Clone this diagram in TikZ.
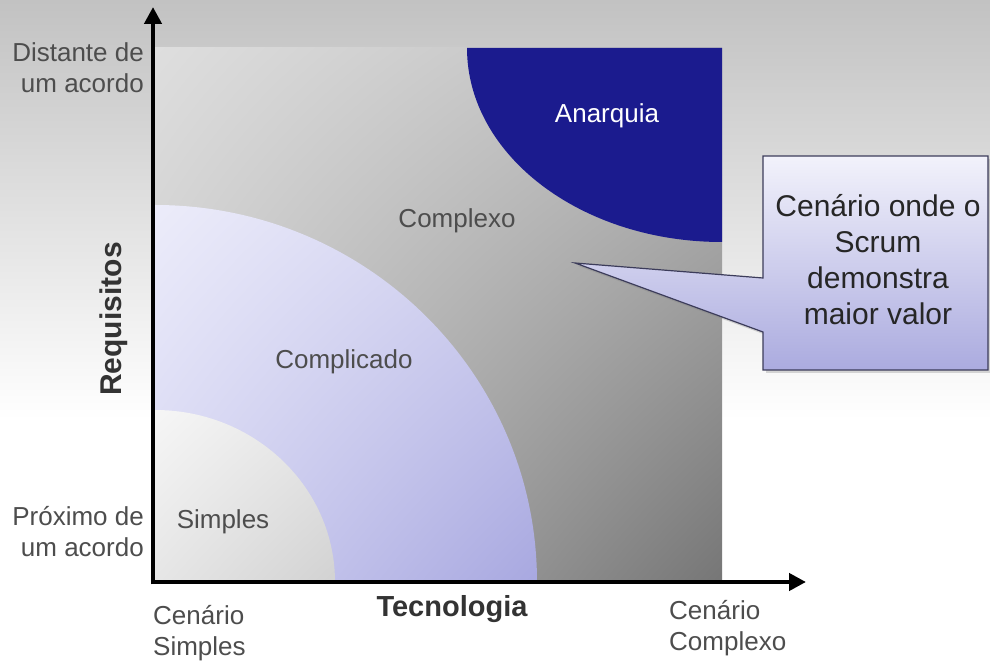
\documentclass[tikz,border=0pt]{standalone}
\usepackage{fontspec}
\setmainfont{Liberation Sans}
\usetikzlibrary{arrows.meta,shadows,shadings}

\definecolor{bgtop}{HTML}{C2C2C2}
\definecolor{plotUL}{HTML}{DEDEDE}
\definecolor{plotUR}{HTML}{BCBCBC}
\definecolor{plotLL}{HTML}{C4C4C4}
\definecolor{plotLR}{HTML}{767676}
\definecolor{anarblue}{HTML}{1B1B8E}
\definecolor{cplxUL}{HTML}{ECECFA}
\definecolor{cplxUR}{HTML}{D2D2F0}
\definecolor{cplxLL}{HTML}{D4D4F2}
\definecolor{cplxLR}{HTML}{A8A8E0}
\definecolor{simpUL}{HTML}{F6F6F6}
\definecolor{simpMID}{HTML}{E6E6E6}
\definecolor{simpLR}{HTML}{D2D2D2}
\definecolor{calltop}{HTML}{F2F2FB}
\definecolor{callbot}{HTML}{ABABDF}
\definecolor{callline}{HTML}{3C3C5A}
\definecolor{labelgray}{HTML}{4D4D4D}
\definecolor{titlegray}{HTML}{333333}

\begin{document}
\begin{tikzpicture}[
    x=1pt, y=1pt,
    axislabel/.style={text=labelgray, font=\fontsize{26}{31}\selectfont, inner sep=0pt},
    zonelabel/.style={text=labelgray, font=\fontsize{26}{31}\selectfont, inner sep=0pt},
    axistitle/.style={text=titlegray, font=\fontsize{29}{32}\selectfont\bfseries, inner sep=0pt},
    axisline/.style={line width=4.5pt, -{Triangle[length=17pt,width=17pt]}},
]

% Background
\useasboundingbox (0,0) rectangle (990,664);
\fill[white] (0,0) rectangle (990,664);
\shade[top color=bgtop, bottom color=white] (0,244) rectangle (990,664);

% Plot area
\shade[upper left=plotUL, upper right=plotUR, lower left=plotLL, lower right=plotLR]
    (155,82) rectangle (722,616);

% Anarquia zone
\fill[anarblue] (722,616) -- (467,616)
    arc[start angle=180, end angle=270, x radius=255, y radius=194] -- cycle;

% Complicado zone
\shade[upper left=cplxUL, upper right=cplxUR, lower left=cplxLL, lower right=cplxLR]
    (155,82) -- (537,82) arc[start angle=0, end angle=90, x radius=382, y radius=377] -- cycle;

% Simples zone
\shade[upper left=simpUL, upper right=simpMID, lower left=simpMID, lower right=simpLR]
    (155,82) -- (335,82) arc[start angle=0, end angle=90, x radius=180, y radius=172] -- cycle;

% Zone labels
\node[zonelabel, text=white] (anarquia) at (607,548) {Anarquia};
\node[zonelabel] (complexo) at (457,443) {Complexo};
\node[zonelabel] (complicado) at (344,302) {Complicado};
\node[zonelabel] (simples) at (223,142) {Simples};

% Axes
\coordinate (origin) at (153,82);
\coordinate (ytip) at (153,657);
\coordinate (xtip) at (806,82);
\draw[axisline] ([yshift=-2.25pt]origin) -- (ytip);
\draw[axisline] ([xshift=-2.25pt]origin) -- (xtip);

% Axis labels
\node[axislabel, anchor=east, align=right] (distante) at (144,596) {Distante de\\um acordo};
\node[axislabel, anchor=east, align=right] (proximo) at (144,132) {Próximo de\\um acordo};
\node[axislabel, anchor=west, align=left] (cenSimples) at (153,31) {Cenário\\Simples};
\node[axislabel, anchor=west, align=left] (cenComplexo) at (669,36) {Cenário\\Complexo};
\node[axistitle, font=\fontsize{30}{32}\selectfont\bfseries, rotate=90] (requisitos) at (114,345) {Requisitos};
\node[axistitle] (tecnologia) at (452,55) {Tecnologia};

% Callout
\shade[top color=calltop, bottom color=callbot, draw=callline, line width=1.2pt,
       drop shadow={shadow xshift=3pt, shadow yshift=-3pt, opacity=0.3}]
    (763,508) -- (988,508) -- (988,294) -- (763,294) -- (763,332) -- (575,401) -- (763,386) -- cycle;
\node[text=black!85, font=\fontsize{30}{36}\selectfont, align=center, inner sep=0pt]
    (scrumNote) at (878,404) {Cenário onde o\\Scrum\\demonstra\\maior valor};

\end{tikzpicture}
\end{document}
